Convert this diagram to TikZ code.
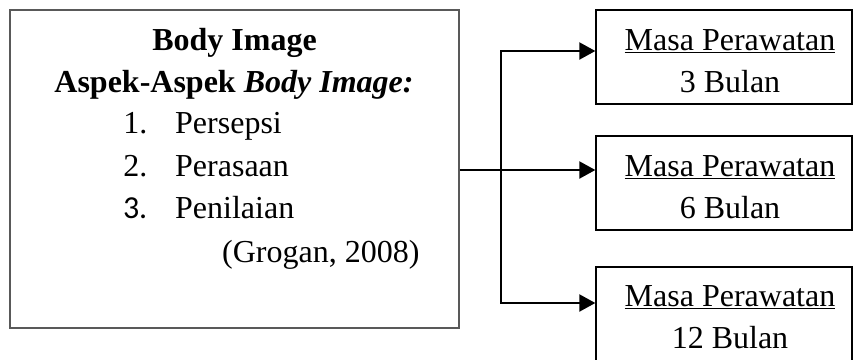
\documentclass[tikz,border=0pt]{standalone}
\usepackage{fontspec}
\setmainfont{Liberation Serif}
\newfontfamily\calfont{Carlito}
\usetikzlibrary{arrows.meta}
\begin{document}
\begin{tikzpicture}[x=1pt,y=-1pt,
  txt/.style={inner sep=0pt, font=\fontsize{32}{42}\selectfont},
  lbox/.style={draw=black!65, line width=1.1pt, inner sep=0pt},
  rbox/.style={draw=black, line width=1.3pt, inner sep=0pt, minimum width=256pt},
  conn/.style={line width=2pt, -{Triangle[length=16pt,width=17pt]}},
  link/.style={line width=2pt}
]
\useasboundingbox (0,0) rectangle (853,359);
% boxes
\node[lbox, minimum width=449pt, minimum height=318pt] (body) at (234.5,169) {};
\node[rbox, minimum height=94pt] (m3) at (724,57) {};
\node[rbox, minimum height=94pt] (m6) at (724,183) {};
\node[rbox, minimum height=113pt] (m12) at (724,323.5) {};
% left box text
\node[txt, anchor=base] (t1) at (234.5,50) {\bfseries Body Image};
\node[txt, anchor=base] (t2) at (234,92) {\bfseries Aspek-Aspek \itshape Body Image:};
\node[txt, anchor=base east] (n1) at (147.5,133) {1.};
\node[txt, anchor=base west] (i1) at (175,133) {Persepsi};
\node[txt, anchor=base east] (n2) at (147.5,176) {2.};
\node[txt, anchor=base west] (i2) at (175,176) {Perasaan};
\node[txt, anchor=base east] (n3) at (147.5,218) {\calfont 3.};
\node[txt, anchor=base west] (i3) at (175,218) {Penilaian};
\node[txt, anchor=base west] (g) at (222,262) {(Grogan, 2008)};
% right box text
\node[txt, anchor=base] (a1) at (730,50) {\underline{Masa Perawatan}};
\node[txt, anchor=base] (b1) at (730,92) {3 Bulan};
\node[txt, anchor=base] (a2) at (730,176) {\underline{Masa Perawatan}};
\node[txt, anchor=base] (b2) at (730,218) {6 Bulan};
\node[txt, anchor=base] (a3) at (730,306) {\underline{Masa Perawatan}};
\node[txt, anchor=base] (b3) at (730,348) {12 Bulan};
% connectors
\coordinate (j) at (501,170);
\coordinate (jt) at (501,51);
\coordinate (jb) at (501,303);
\draw[conn] (body.east |- j) -- (m6.west |- j);
\draw[conn] (jb) -- (jt) -- (m3.west |- jt);
\draw[conn] (jt) -- (jb) -- (m12.west |- jb);
\end{tikzpicture}
\end{document}
